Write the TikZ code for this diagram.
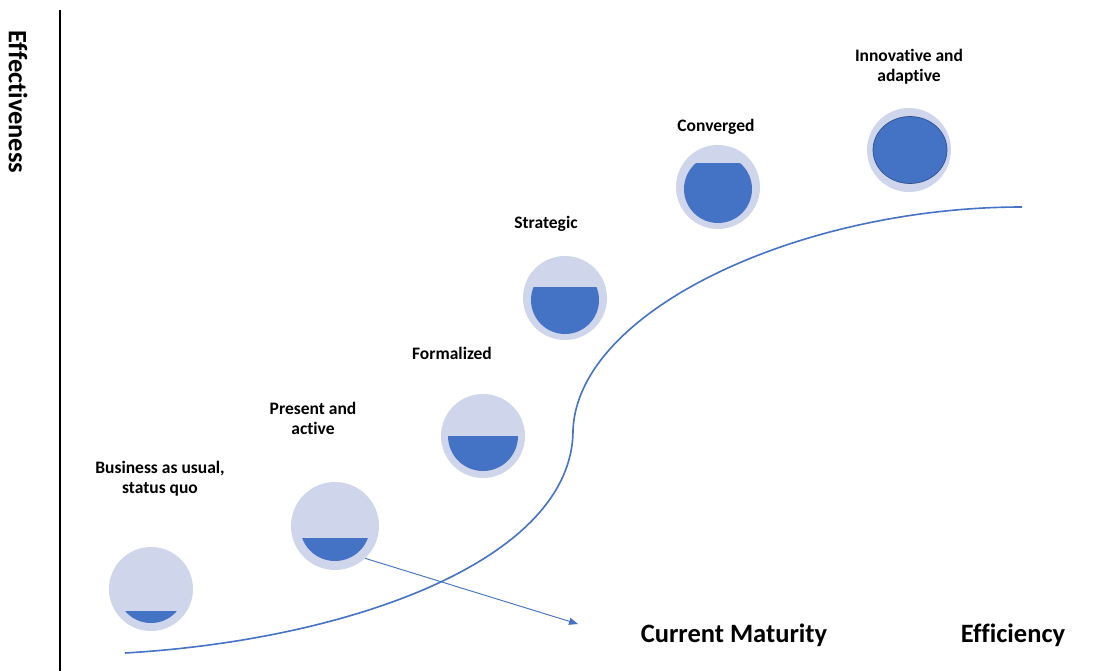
\documentclass[tikz,border=0pt]{standalone}
\usepackage{fontspec}
\setmainfont{Carlito}[RawFeature=-liga]
\usetikzlibrary{arrows.meta}
\definecolor{ring}{HTML}{CFD5EA}
\definecolor{fillblue}{HTML}{4472C4}
\definecolor{edgeblue}{HTML}{2F528F}
\tikzset{
  ringnode/.style={circle, fill=ring, inner sep=0pt, minimum size=#1},
  stagelabel/.style={font=\bfseries\fontsize{17.5}{20}\selectfont, align=center, inner sep=0pt},
  axislabel/.style={font=\bfseries\fontsize{26.5}{30}\selectfont, inner sep=0pt},
  curveline/.style={draw=fillblue, line width=1.6pt},
  pointer/.style={draw=fillblue, line width=0.9pt, -{Triangle[length=9pt,width=7pt]}, fill=fillblue}
}
% level fill: centre x, centre y, inner radius, water level
\newcommand{\levelfill}[4]{%
  \begin{scope}
    \clip (#1-#3-1,#4) rectangle (#1+#3+1,#2+#3+1);
    \fill[fillblue] (#1,#2) circle (#3);
  \end{scope}}
\begin{document}
\begin{tikzpicture}[x=1pt,y=-1pt]
\useasboundingbox (0,0) rectangle (1105,671);

% vertical axis
\coordinate (axtop) at (60,10);
\coordinate (axbot) at (60,671);
\draw[line width=1.6pt] (axtop) -- (axbot);
\node[axislabel, rotate=-90] (effect) at (18,102) {Effectiveness};

% maturity curve
\coordinate (cstart) at (125,653);
\coordinate (cmid) at (573,430);
\coordinate (cend) at (1022,207);
\draw[curveline] (cstart) .. controls (350,640) and (573,560) .. (cmid)
                         .. controls (578,310) and (800,207) .. (cend);

% stage rings
\node[ringnode=84pt] (s1) at (151,589) {};
\node[ringnode=88pt] (s2) at (335,526) {};
\node[ringnode=84pt] (s3) at (483,436) {};
\node[ringnode=84pt] (s4) at (565,298) {};
\node[ringnode=84pt] (s5) at (718,187) {};
\node[ringnode=84pt] (s6) at (909,150) {};

% fill levels
\levelfill{151}{589}{34}{611}
\levelfill{335}{526}{35}{538}
\levelfill{483}{436}{35}{436}
\levelfill{565}{300}{34}{287}
\levelfill{718}{189}{34}{164}
\draw[fill=fillblue, draw=edgeblue, line width=0.7pt] (910,150) ellipse (37 and 33.5);

% stage labels
\node[stagelabel] (l1) at (160,479) {Business as usual,\\status quo};
\node[stagelabel] (l2) at (313,418) {Present and\\active};
\node[stagelabel] (l3) at (452,353) {Formalized};
\node[stagelabel] (l4) at (546,224) {Strategic};
\node[stagelabel] (l5) at (716,127) {Converged};
\node[stagelabel] (l6) at (909,67) {Innovative and\\adaptive};

% pointer to the current maturity
\coordinate (ptend) at (578,624);
\draw[pointer] (s2.-47) -- (ptend);

% horizontal labels
\node[axislabel] (current) at (734,635) {Current Maturity};
\node[axislabel] (effic) at (1013,635) {Efficiency};
\end{tikzpicture}
\end{document}
